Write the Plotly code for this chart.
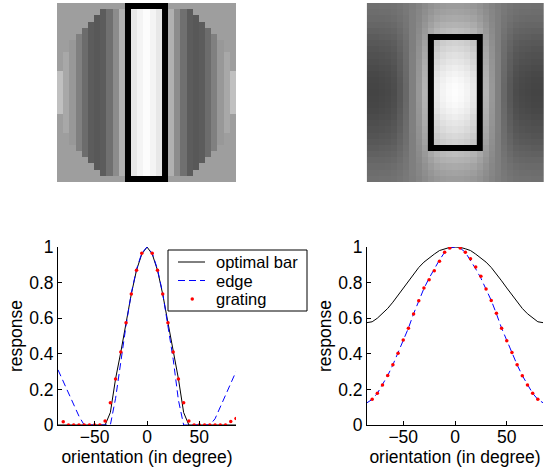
import plotly.graph_objects as go

W, H = 544, 471

# ---------------- data ----------------
deg = [-85, -80, -75, -70, -65, -60, -55, -50, -45, -40, -35, -30, -25, -20, -15, -10, -5, 0,
       5, 10, 15, 20, 25, 30, 35, 40, 45, 50, 55, 60, 65, 70, 75, 80, 85]

# left panel (bar-shaped cell)
bar_L = [0, 0, 0, 0, 0, 0, 0, 0, 0, 0, 0.07, 0.26, 0.41, 0.575, 0.735, 0.87, 0.96, 1.0,
         0.96, 0.87, 0.735, 0.575, 0.41, 0.26, 0.07, 0, 0, 0, 0, 0, 0, 0, 0, 0, 0]
edge_L = [0.31, 0.245, 0.18, 0.115, 0.05, 0, 0, 0, 0, 0, 0, 0.15, 0.37, 0.56, 0.74, 0.875, 0.965, 1.0,
          0.965, 0.875, 0.74, 0.56, 0.37, 0.14, 0, 0, 0, 0, 0, 0, 0.035, 0.10, 0.17, 0.235, 0.30]
grat_deg_L = [-80, -75, -70, -65, -60, -55, -50, -45, -40, -35, -30, -25, -20, -15, -10, -5,
              5, 10, 15, 20, 25, 30, 35, 40, 45, 50, 55, 60, 65, 70, 75, 80, 85]
grat_L = [0.018, 0, 0, 0, 0, 0, 0, 0, 0.022, 0.125, 0.258, 0.41, 0.575, 0.736, 0.87, 0.965,
          0.965, 0.87, 0.736, 0.575, 0.41, 0.258, 0.125, 0.022, 0, 0, 0, 0, 0, 0, 0, 0.02, 0.037]

# right panel (blob-shaped cell)
bar_R = [0.575, 0.58, 0.60, 0.625, 0.655, 0.69, 0.73, 0.77, 0.81, 0.85, 0.885, 0.915, 0.94, 0.96,
         0.98, 0.99, 0.998, 1.0, 0.998, 0.99, 0.98, 0.96, 0.94, 0.915, 0.885, 0.85, 0.81, 0.77,
         0.73, 0.69, 0.655, 0.625, 0.60, 0.58, 0.575]
edge_R = [0.125, 0.144, 0.178, 0.225, 0.278, 0.338, 0.405, 0.476, 0.544, 0.625, 0.70, 0.767, 0.825,
          0.877, 0.927, 0.97, 0.994, 1.0, 0.994, 0.97, 0.927, 0.877, 0.825, 0.767, 0.70, 0.625,
          0.544, 0.476, 0.405, 0.338, 0.278, 0.225, 0.178, 0.144, 0.125]
grat_deg_R = [-80, -75, -70, -65, -60, -55, -50, -45, -40, -35, -30, -25, -20, -15, -10, -5,
              5, 10, 15, 20, 25, 30, 35, 40, 45, 50, 55, 60, 65, 70, 75, 80]
grat_R = [0.144, 0.178, 0.225, 0.278, 0.338, 0.403, 0.478, 0.544, 0.623, 0.698, 0.769, 0.816,
          0.867, 0.92, 0.97, 0.994, 0.994, 0.97, 0.934, 0.887, 0.835, 0.764, 0.70, 0.628, 0.544,
          0.473, 0.407, 0.338, 0.276, 0.225, 0.178, 0.144]

assert len(bar_L) == len(deg) and len(edge_L) == len(deg)
assert len(bar_R) == len(deg) and len(edge_R) == len(deg)
assert len(grat_L) == len(grat_deg_L) and len(grat_R) == len(grat_deg_R)

x_ticks = [-50, 0, 50]
y_ticks = [0, 0.2, 0.4, 0.6, 0.8, 1]
y_ticktext = ["0", "0.2", "0.4", "0.6", "0.8", "1"]
legend_labels = ["optimal bar", "edge", "grating"]

# images (29 x 29 grids), gray levels read per column distance from centre
N = 29
C = 14
img_L_col = [252, 244, 232, 210, 176, 140, 112, 92, 88, 92, 108, 128, 152, 168, 192]
img_L_half = [13, 13, 13, 13, 13, 13, 13, 13, 12, 11, 10, 9, 8, 6, 3]
img_L_bg = 158
img_R_col = [253, 250, 244, 232, 210, 180, 152, 128, 104, 88, 76, 72, 70, 68, 68]
img_R_row = [1.0, 0.99, 0.97, 0.93, 0.88, 0.83, 0.78, 0.72, 0.66, 0.58, 0.5, 0.42, 0.35, 0.29, 0.24]
img_R_bg = 126

zL = [[img_L_col[abs(j - C)] if abs(i - C) <= img_L_half[abs(j - C)] else img_L_bg
       for j in range(N)] for i in range(N)]
zR = [[img_R_bg + (img_R_col[abs(j - C)] - img_R_bg) * img_R_row[abs(i - C)]
       for j in range(N)] for i in range(N)]

# ---------------- figure ----------------
FONT = "Liberation Sans, Arial, Helvetica, sans-serif"
FS = 17.5
FS_LEG = 16.5
fig = go.Figure()

gray = [[0, "black"], [1, "white"]]
fig.add_trace(go.Heatmap(z=zL, colorscale=gray, zmin=0, zmax=255, showscale=False,
                         hoverinfo="skip", xaxis="x3", yaxis="y3"))
fig.add_trace(go.Heatmap(z=zR, colorscale=gray, zmin=0, zmax=255, showscale=False,
                         hoverinfo="skip", xaxis="x4", yaxis="y4"))

blue = "#0000ff"
red = "#ff0000"
DASH = "7px,4px"
fig.add_trace(go.Scatter(x=deg, y=bar_L, mode="lines", name=legend_labels[0], showlegend=False,
                         line=dict(color="black", width=1), xaxis="x", yaxis="y"))
fig.add_trace(go.Scatter(x=deg, y=edge_L, mode="lines", name=legend_labels[1], showlegend=False,
                         line=dict(color=blue, width=1, dash=DASH), xaxis="x", yaxis="y"))
fig.add_trace(go.Scatter(x=grat_deg_L, y=grat_L, mode="markers", name=legend_labels[2],
                         showlegend=False, marker=dict(color=red, size=3.5), xaxis="x", yaxis="y"))

fig.add_trace(go.Scatter(x=deg, y=bar_R, mode="lines", showlegend=False,
                         line=dict(color="black", width=1), xaxis="x2", yaxis="y2"))
fig.add_trace(go.Scatter(x=deg, y=edge_R, mode="lines", showlegend=False,
                         line=dict(color=blue, width=1, dash=DASH), xaxis="x2", yaxis="y2"))
fig.add_trace(go.Scatter(x=grat_deg_R, y=grat_R, mode="markers", showlegend=False,
                         marker=dict(color=red, size=3.5), xaxis="x2", yaxis="y2"))


def px_x(a, b):
    return [a / W, b / W]


def px_y(top, bottom):
    return [1 - bottom / H, 1 - top / H]


def fx(px):
    return px / W


def fy(py):
    return 1 - py / H


plot_x_common = dict(range=[-85, 85], tickvals=x_ticks, ticks="inside", ticklen=4,
                     tickcolor="black", showline=True, linecolor="black", linewidth=1,
                     showgrid=False, zeroline=False, tickfont=dict(size=FS, color="black"),
                     automargin=False, ticklabelstandoff=-4,
                     title=dict(text="orientation (in degree)", font=dict(size=FS, color="black"),
                                standoff=2))
plot_y_common = dict(range=[0, 1], tickvals=y_ticks, ticktext=y_ticktext, ticks="inside",
                     ticklen=4, tickcolor="black", showline=True, linecolor="black", linewidth=1,
                     showgrid=False, zeroline=False, tickfont=dict(size=FS, color="black"),
                     automargin=False,
                     title=dict(text="response", font=dict(size=FS, color="black"), standoff=2))
img_axis = dict(showticklabels=False, showgrid=False, zeroline=False, ticks="", showline=False,
                automargin=False)

# boxed legend drawn in paper coordinates
lg_left, lg_right, lg_top, lg_bottom = 168, 307, 250, 311
row_y = [262, 280.5, 299]
shapes = [
    dict(type="rect", xref="x3", yref="y3", x0=11, x1=17, y0=0, y1=28,
         line=dict(color="black", width=6), layer="above"),
    dict(type="rect", xref="x4", yref="y4", x0=10, x1=18, y0=5, y1=23,
         line=dict(color="black", width=6), layer="above"),
    dict(type="rect", xref="paper", yref="paper", x0=fx(lg_left), x1=fx(lg_right),
         y0=fy(lg_bottom), y1=fy(lg_top), line=dict(color="black", width=1),
         fillcolor="white", layer="above"),
    dict(type="line", xref="paper", yref="paper", x0=fx(178), x1=fx(205),
         y0=fy(row_y[0]), y1=fy(row_y[0]), line=dict(color="black", width=1), layer="above"),
    dict(type="line", xref="paper", yref="paper", x0=fx(178), x1=fx(205),
         y0=fy(row_y[1]), y1=fy(row_y[1]), line=dict(color=blue, width=1, dash=DASH),
         layer="above"),
    dict(type="circle", xref="paper", yref="paper", x0=fx(190.5), x1=fx(194),
         y0=fy(row_y[2] + 1.75), y1=fy(row_y[2] - 1.75), line=dict(width=0),
         fillcolor=red, layer="above"),
]
annotations = [
    dict(xref="paper", yref="paper", x=fx(215), y=fy(ry), xanchor="left", yanchor="middle",
         text=t, showarrow=False, font=dict(size=FS_LEG, color="black"), borderpad=0)
    for t, ry in zip(legend_labels, row_y)
]

fig.update_layout(
    width=W, height=H, margin=dict(l=0, r=0, t=0, b=0, pad=0, autoexpand=False),
    paper_bgcolor="white", plot_bgcolor="white",
    font=dict(family=FONT, size=FS, color="black"),
    xaxis=dict(domain=px_x(58, 236), anchor="y", **plot_x_common),
    yaxis=dict(domain=px_y(247, 425), anchor="x", **plot_y_common),
    xaxis2=dict(domain=px_x(367, 543), anchor="y2", **plot_x_common),
    yaxis2=dict(domain=px_y(247, 425), anchor="x2", **plot_y_common),
    xaxis3=dict(domain=px_x(57, 236), anchor="y3", range=[-0.5, 28.5], **img_axis),
    yaxis3=dict(domain=px_y(3, 182), anchor="x3", range=[28.5, -0.5], **img_axis),
    xaxis4=dict(domain=px_x(366.7, 544), anchor="y4", range=[-0.5, 28.5], **img_axis),
    yaxis4=dict(domain=px_y(3, 182), anchor="x4", range=[28.5, -0.5], **img_axis),
    showlegend=False,
    shapes=shapes,
    annotations=annotations,
)

fig.write_html("out.html")
